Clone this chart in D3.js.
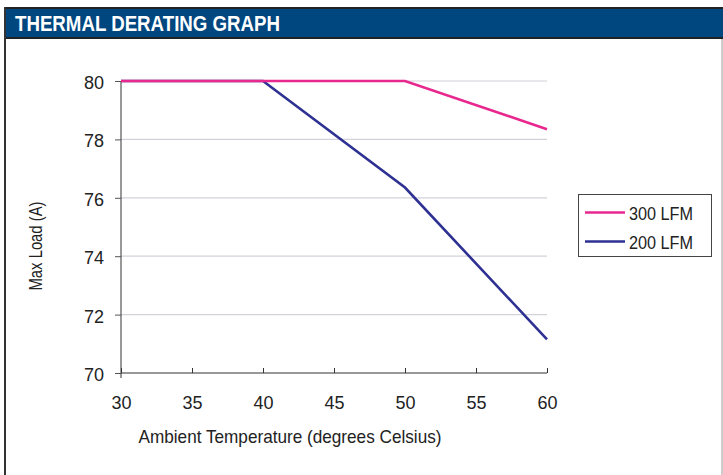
<!DOCTYPE html>
<html>
<head>
<meta charset="utf-8">
<script src="https://cdn.jsdelivr.net/npm/d3@7"></script>
<style>
  body { margin: 0; background: #fff; }
  svg { display: block; }
</style>
</head>
<body>
<div id="chart"></div>
<script>
// Chart data
const temps = [30, 40, 50, 60];
const load300 = [80, 80, 80, 78.35];
const load200 = [80, 80, 76.35, 71.15];
const seriesNames = ["300 LFM", "200 LFM"];
const seriesColors = ["#e8278f", "#2e3192"];
const xTicks = [30, 35, 40, 45, 50, 55, 60];
const yTicks = [70, 72, 74, 76, 78, 80];

const W = 723, H = 475;
const plot = { left: 121, right: 547, top: 81, bottom: 373 };
const font = "'Liberation Sans Narrow', 'Arial Narrow', 'Liberation Sans', sans-serif";

const svg = d3.select("#chart").append("svg")
  .attr("width", W)
  .attr("height", H);

// Frame and header
svg.append("rect").attr("x", 5).attr("y", 8).attr("width", W - 5).attr("height", 30)
  .attr("fill", "#00467f");
svg.append("line").attr("x1", 4).attr("x2", W).attr("y1", 8).attr("y2", 8)
  .attr("stroke", "#222").attr("stroke-width", 2);
svg.append("line").attr("x1", 4).attr("x2", W).attr("y1", 38).attr("y2", 38)
  .attr("stroke", "#222").attr("stroke-width", 2);
svg.append("line").attr("x1", 5).attr("x2", 5).attr("y1", 7).attr("y2", H)
  .attr("stroke", "#333").attr("stroke-width", 2);
svg.append("line").attr("x1", 722).attr("x2", 722).attr("y1", 39).attr("y2", H)
  .attr("stroke", "#bbb").attr("stroke-width", 1.5);
svg.append("text")
  .attr("x", 15).attr("y", 31)
  .attr("fill", "#fff")
  .attr("textLength", 265)
  .attr("lengthAdjust", "spacingAndGlyphs")
  .style("font-family", font)
  .style("font-weight", "bold")
  .style("font-size", "22px")
  .text("THERMAL DERATING GRAPH");

// Scales
const x = d3.scaleLinear().domain([30, 60]).range([plot.left, plot.right]);
const y = d3.scaleLinear().domain([70, 80]).range([plot.bottom, plot.top]);

// Gridlines
svg.append("g")
  .selectAll("line")
  .data(yTicks.filter(d => d !== 70))
  .enter().append("line")
  .attr("x1", plot.left).attr("x2", plot.right)
  .attr("y1", d => y(d)).attr("y2", d => y(d))
  .attr("stroke", "#d2d2da").attr("stroke-width", 1.2);

// Y axis
const yAxisG = svg.append("g")
  .attr("transform", `translate(${plot.left},0)`)
  .call(d3.axisLeft(y).tickValues(yTicks).tickSize(6).tickPadding(11).tickFormat(d3.format("d")));
yAxisG.select(".domain").attr("stroke", "#333").attr("d", `M0,${plot.top}V${plot.bottom + 5}`);
yAxisG.selectAll(".tick line").attr("stroke", "#555");
yAxisG.selectAll("text")
  .attr("dy", "0.42em")
  .style("font-family", font).style("font-size", "18px").attr("fill", "#222");

// X axis
const xAxisG = svg.append("g")
  .attr("transform", `translate(0,${plot.bottom})`)
  .call(d3.axisBottom(x).tickValues(xTicks).tickSize(-5).tickPadding(23).tickFormat(d3.format("d")));
xAxisG.select(".domain").attr("stroke", "#333").attr("d", `M${plot.left},0H${plot.right}`);
xAxisG.selectAll(".tick line").attr("stroke", "#333");
xAxisG.selectAll("text")
  .style("font-family", font).style("font-size", "18px").attr("fill", "#222");

// Axis titles
svg.append("text")
  .attr("x", 290).attr("y", 443)
  .attr("text-anchor", "middle")
  .attr("textLength", 303)
  .attr("lengthAdjust", "spacingAndGlyphs")
  .style("font-family", font).style("font-size", "18.5px").attr("fill", "#222")
  .text("Ambient Temperature (degrees Celsius)");
svg.append("text")
  .attr("transform", "translate(42,246) rotate(-90)")
  .attr("text-anchor", "middle")
  .attr("textLength", 89)
  .attr("lengthAdjust", "spacingAndGlyphs")
  .style("font-family", font).style("font-size", "18.5px").attr("fill", "#222")
  .text("Max Load (A)");

// Lines
const series = [load300, load200];
const line = d3.line().x((d, i) => x(temps[i])).y(d => y(d));
svg.append("g")
  .selectAll("path")
  .data(series.slice().reverse())
  .enter().append("path")
  .attr("d", d => line(d))
  .attr("fill", "none")
  .attr("stroke", (d, i) => seriesColors[series.length - 1 - i])
  .attr("stroke-width", 2.6);

// Legend
const legend = svg.append("g");
legend.append("rect")
  .attr("x", 578.5).attr("y", 194.5).attr("width", 133).attr("height", 62)
  .attr("fill", "#fff").attr("stroke", "#444").attr("stroke-width", 1);
seriesNames.forEach((name, i) => {
  const ly = 212.5 + i * 29;
  legend.append("line")
    .attr("x1", 585).attr("x2", 625).attr("y1", ly).attr("y2", ly)
    .attr("stroke", seriesColors[i]).attr("stroke-width", 2.6);
  legend.append("text")
    .attr("x", 629).attr("y", ly + 7)
    .attr("textLength", 64)
    .attr("lengthAdjust", "spacingAndGlyphs")
    .style("font-family", font).style("font-size", "18px").attr("fill", "#222")
    .text(name);
});
</script>
</body>
</html>
